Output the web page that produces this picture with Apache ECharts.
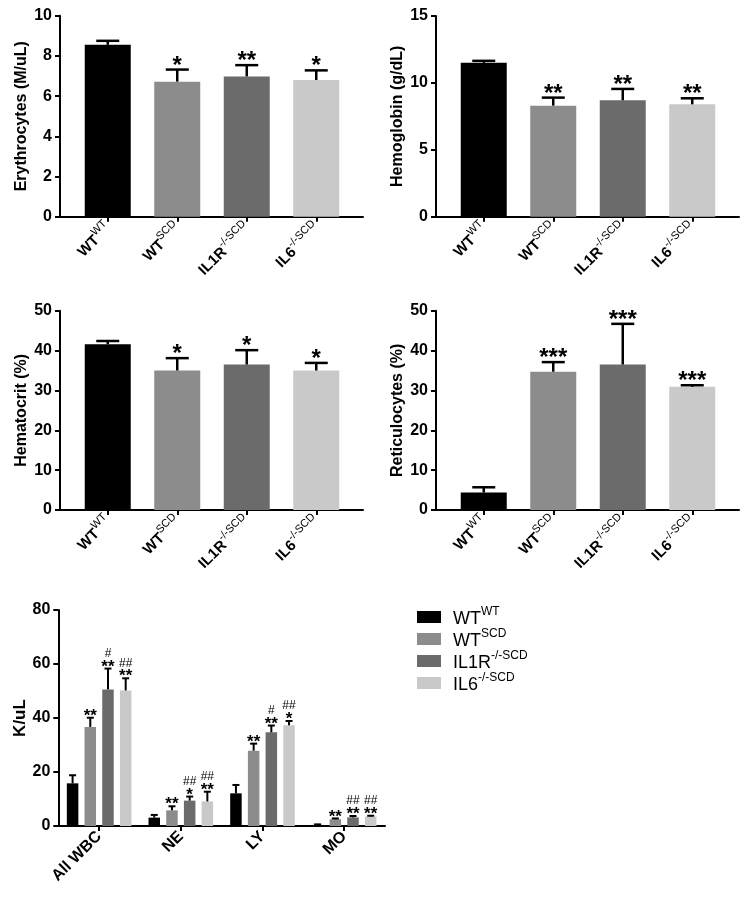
<!DOCTYPE html>
<html><head><meta charset="utf-8">
<script src="https://cdn.jsdelivr.net/npm/echarts@6/dist/echarts.min.js"></script>
<style>html,body{margin:0;padding:0;background:#fff}#c{width:753px;height:900px}</style>
</head><body><div id="c"></div>
<script>
// ---------------- data ----------------
const groups = ['WT^WT', 'WT^SCD', 'IL1R^-/-SCD', 'IL6^-/-SCD'];

const erythMean = [8.55, 6.72, 6.98, 6.80];
const erythErr  = [0.20, 0.60, 0.56, 0.48];
const erythSig  = ['', '*', '**', '*'];

const hgbMean = [11.50, 8.30, 8.70, 8.40];
const hgbErr  = [0.15, 0.60, 0.85, 0.45];
const hgbSig  = ['', '**', '**', '**'];

const hctMean = [41.6, 35.0, 36.5, 35.0];
const hctErr  = [0.8, 3.1, 3.6, 1.9];
const hctSig  = ['', '*', '*', '*'];

const retMean = [4.4, 34.7, 36.5, 30.9];
const retErr  = [1.3, 2.4, 10.2, 0.4];
const retSig  = ['', '***', '***', '***'];

const erythTicks = [0, 10, 2];
const hgbTicks = [0, 15, 5];
const hctTicks = [0, 50, 10];
const retTicks = [0, 50, 10];
const wbcTicks = [0, 80, 20];

const wbcCats = ['All WBC', 'NE', 'LY', 'MO'];
const wbcWT      = [15.8, 3.1, 12.1, 0.4];
const wbcWTErr   = [3.0, 1.0, 3.1, 0.2];
const wbcWTStar  = ['', '', '', ''];
const wbcWTHash  = ['', '', '', ''];
const wbcSCD     = [36.7, 5.8, 27.9, 2.5];
const wbcSCDErr  = [3.4, 1.5, 2.6, 0.3];
const wbcSCDStar = ['**', '**', '**', '**'];
const wbcSCDHash = ['', '', '', ''];
const wbcIL1R     = [50.6, 9.4, 34.7, 3.2];
const wbcIL1RErr  = [7.7, 1.5, 2.5, 0.5];
const wbcIL1RStar = ['**', '*', '**', '**'];
const wbcIL1RHash = ['#', '##', '#', '##'];
const wbcIL6     = [50.2, 9.1, 37.3, 3.5];
const wbcIL6Err  = [4.5, 3.6, 1.6, 0.3];
const wbcIL6Star = ['**', '**', '*', '**'];
const wbcIL6Hash = ['##', '##', '##', '##'];

// ---------------- style / layout ----------------
const FONT = '"Liberation Sans", Arial, Helvetica, sans-serif';
const COLORS = ['#000000', '#8c8c8c', '#6b6b6b', '#c9c9c9'];

const panels = [
  {name: 'Erythrocytes (M/uL)', mean: erythMean, err: erythErr, sig: erythSig, ticks: erythTicks,
   left: 60, top: 15.7, width: 303, height: 201},
  {name: 'Hemoglobin (g/dL)', mean: hgbMean, err: hgbErr, sig: hgbSig, ticks: hgbTicks,
   left: 436, top: 16, width: 303, height: 200.7},
  {name: 'Hematocrit (%)', mean: hctMean, err: hctErr, sig: hctSig, ticks: hctTicks,
   left: 60, top: 310.7, width: 303, height: 199.3},
  {name: 'Reticulocytes (%)', mean: retMean, err: retErr, sig: retSig, ticks: retTicks,
   left: 436, top: 310.7, width: 303, height: 199.3}
];

const labelRich = {
  b: {fontFamily: FONT, fontWeight: 'bold', fontSize: 15, lineHeight: 19, verticalAlign: 'bottom', color: '#000'},
  s: {fontFamily: FONT, fontSize: 11, lineHeight: 11, verticalAlign: 'top', color: '#000'}
};
function supFormatter(v) {
  const p = v.split('^');
  return '{b|' + p[0] + '}' + (p[1] ? '{s|' + p[1] + '}' : '');
}

const grids = [], xAxes = [], yAxes = [], series = [];

function yAxisCfg(gi, ticks, name, show, nameGap, nameSize) {
  return {
    gridIndex: gi, type: 'value', min: ticks[0], max: ticks[1], interval: ticks[2], show: show,
    axisLine: {show: true, onZero: false, lineStyle: {color: '#000', width: 2}},
    axisTick: {show: true, length: 5, lineStyle: {color: '#000', width: 2}},
    axisLabel: {fontFamily: FONT, fontWeight: 'bold', fontSize: 16, color: '#000', margin: 8},
    splitLine: {show: false},
    name: name, nameLocation: 'middle', nameGap: nameGap,
    nameTextStyle: {fontFamily: FONT, fontWeight: 'bold', fontSize: nameSize, color: '#000'}
  };
}

panels.forEach(function (p, k) {
  const gf = grids.length;
  grids.push({left: p.left, top: p.top, width: p.width, height: p.height, containLabel: false});
  xAxes.push({gridIndex: gf, type: 'value', min: 0, max: 1,
    axisLine: {show: true, onZero: false, lineStyle: {color: '#000', width: 2}},
    axisTick: {show: false}, axisLabel: {show: false}, splitLine: {show: false}});
  yAxes.push(yAxisCfg(gf, p.ticks, p.name, true, 30, 16));

  const gb = grids.length;
  const inset = 13;
  grids.push({left: p.left + inset, top: p.top, width: 278, height: p.height, containLabel: false});
  xAxes.push({gridIndex: gb, type: 'category', data: groups,
    axisLine: {show: false},
    axisTick: {show: true, alignWithLabel: true, length: 5, lineStyle: {color: '#000', width: 2}},
    axisLabel: {interval: 0, rotate: 45, margin: 8, formatter: supFormatter, rich: labelRich}});
  yAxes.push(yAxisCfg(gb, p.ticks, '', false, 0, 16));

  series.push({type: 'bar', xAxisIndex: gb, yAxisIndex: gb, barWidth: 46, silent: true,
    data: p.mean.map(function (v, i) { return {value: v, itemStyle: {color: COLORS[i]}}; })});
  const sig = p.sig;
  series.push({type: 'custom', xAxisIndex: gb, yAxisIndex: gb, z: 5, silent: true,
    data: p.mean.map(function (v, i) { return [i, v, p.err[i]]; }),
    renderItem: function (params, api) {
      const i = api.value(0), m = api.value(1), e = api.value(2);
      const a = api.coord([i, m]), b = api.coord([i, m + e]);
      const cw = 23, lw = 2.5;
      const ch = [
        {type: 'line', shape: {x1: a[0], y1: a[1], x2: b[0], y2: b[1]}, style: {stroke: '#000', lineWidth: lw}},
        {type: 'line', shape: {x1: b[0] - cw / 2, y1: b[1], x2: b[0] + cw / 2, y2: b[1]}, style: {stroke: '#000', lineWidth: lw}}
      ];
      if (sig[params.dataIndex]) {
        ch.push({type: 'text', style: {text: sig[params.dataIndex], x: b[0], y: b[1] - 3.5,
          align: 'center', verticalAlign: 'middle', font: 'bold 24px ' + FONT, fill: '#000'}});
      }
      return {type: 'group', children: ch};
    }});
});

// ---- bottom grouped chart ----
const gw = grids.length;
grids.push({left: 58.3, top: 610, width: 326.7, height: 216, containLabel: false});
xAxes.push({gridIndex: gw, type: 'category', data: wbcCats,
  axisLine: {show: true, lineStyle: {color: '#000', width: 2}},
  axisTick: {show: true, alignWithLabel: true, length: 5, lineStyle: {color: '#000', width: 2}},
  axisLabel: {interval: 0, rotate: 45, margin: 8, fontFamily: FONT, fontWeight: 'bold', fontSize: 16, color: '#000'}});
yAxes.push(yAxisCfg(gw, wbcTicks, 'K/uL', true, 29, 17));

const wbcSets = [
  [wbcWT, wbcWTErr, wbcWTStar, wbcWTHash],
  [wbcSCD, wbcSCDErr, wbcSCDStar, wbcSCDHash],
  [wbcIL1R, wbcIL1RErr, wbcIL1RStar, wbcIL1RHash],
  [wbcIL6, wbcIL6Err, wbcIL6Star, wbcIL6Hash]
];
const BW = 11.5, GAPPX = 6.2;
wbcSets.forEach(function (s, k) {
  series.push({type: 'bar', name: groups[k], xAxisIndex: gw, yAxisIndex: gw, barWidth: BW,
    barGap: (GAPPX / BW * 100) + '%', itemStyle: {color: COLORS[k]}, silent: true, data: s[0]});
});
wbcSets.forEach(function (s, k) {
  const off = (k - 1.5) * (BW + GAPPX);
  const stars = s[2], hashes = s[3];
  series.push({type: 'custom', xAxisIndex: gw, yAxisIndex: gw, z: 5, silent: true,
    data: s[0].map(function (v, i) { return [i, v, s[1][i]]; }),
    renderItem: function (params, api) {
      const i = api.value(0), m = api.value(1), e = api.value(2);
      const a = api.coord([i, m]), b = api.coord([i, m + e]);
      const x = a[0] + off, cw = 7, lw = 2;
      const ch = [
        {type: 'line', shape: {x1: x, y1: a[1], x2: x, y2: b[1]}, style: {stroke: '#000', lineWidth: lw}},
        {type: 'line', shape: {x1: x - cw / 2, y1: b[1], x2: x + cw / 2, y2: b[1]}, style: {stroke: '#000', lineWidth: lw}}
      ];
      const st = stars[params.dataIndex], hs = hashes[params.dataIndex];
      if (st) ch.push({type: 'text', style: {text: st, x: x, y: b[1] - 1.6, align: 'center', verticalAlign: 'middle',
        font: 'bold 17px ' + FONT, fill: '#000'}});
      if (hs) ch.push({type: 'text', style: {text: hs, x: x, y: b[1] - 15, align: 'center', verticalAlign: 'middle',
        font: '12px ' + FONT, fill: '#000'}});
      return {type: 'group', children: ch};
    }});
});

const chart = echarts.init(document.getElementById('c'), null, {renderer: 'canvas'});
chart.setOption({
  backgroundColor: '#fff',
  animation: false,
  grid: grids, xAxis: xAxes, yAxis: yAxes, series: series,
  legend: {
    data: groups, orient: 'vertical', left: 417, top: 606, padding: 0,
    icon: 'rect', itemWidth: 24, itemHeight: 12, itemGap: 0, selectedMode: false,
    formatter: function (n) {
      const p = n.split('^');
      return '{m|' + p[0] + '}{s|' + p[1] + '}';
    },
    textStyle: {
      rich: {
        m: {fontFamily: FONT, fontSize: 18, lineHeight: 22, verticalAlign: 'bottom', color: '#000', padding: [0, 0, 0, 7]},
        s: {fontFamily: FONT, fontSize: 12, lineHeight: 10, verticalAlign: 'top', color: '#000'}
      }
    }
  }
});
</script></body></html>
